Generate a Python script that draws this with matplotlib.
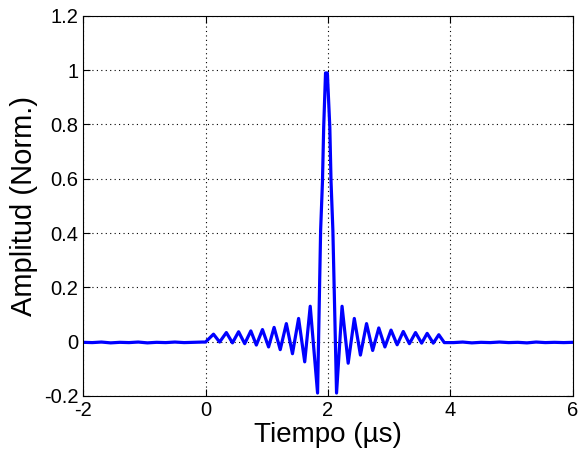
import numpy as np
import matplotlib
matplotlib.use("Agg")
import matplotlib.pyplot as plt

plt.rcParams['font.family'] = ['Liberation Sans', 'DejaVu Sans']

# baseline before the pulse
t_pre = [-2.0, -1.85, -1.7, -1.55, -1.4, -1.25, -1.1, -0.95, -0.8, -0.65,
         -0.5, -0.35, -0.2, -0.05]
a_pre = [-0.003, -0.004, -0.002, -0.005, -0.003, -0.004, -0.002, -0.005,
         -0.003, -0.004, -0.002, -0.004, -0.003, -0.002]

# compressed pulse: peaks / troughs
t_pulse = [0.0, 0.13, 0.23, 0.34, 0.44, 0.54, 0.64, 0.74, 0.83, 0.93,
           1.03, 1.12, 1.22, 1.32, 1.42, 1.52, 1.62, 1.71, 1.83,
           1.88, 1.91, 1.93, 1.96, 1.99, 2.03, 2.05, 2.08,
           2.14, 2.23, 2.33, 2.43, 2.53, 2.63, 2.73, 2.83, 2.93, 3.03,
           3.13, 3.23, 3.33, 3.43, 3.53, 3.62, 3.72, 3.81, 3.9]
a_pulse = [-0.002, 0.027, -0.002, 0.033, -0.005, 0.036, -0.008, 0.039, -0.013, 0.044,
           -0.02, 0.052, -0.03, 0.066, -0.045, 0.085, -0.075, 0.13, -0.19,
           0.41, 0.59, 0.79, 0.99, 0.99, 0.79, 0.59, 0.41,
           -0.19, 0.13, -0.08, 0.085, -0.05, 0.066, -0.033, 0.05, -0.02, 0.042,
           -0.012, 0.037, -0.008, 0.033, -0.006, 0.03, -0.006, 0.025, -0.004]

# baseline after the pulse
t_post = [4.05, 4.2, 4.35, 4.5, 4.65, 4.8, 4.95, 5.1, 5.25, 5.4, 5.55, 5.7,
          5.85, 6.0]
a_post = [-0.004, -0.002, -0.005, -0.003, -0.004, -0.002, -0.004, -0.003,
          -0.005, -0.002, -0.004, -0.003, -0.004, -0.003]

t = t_pre + t_pulse + t_post
amp = a_pre + a_pulse + a_post

fig = plt.figure(figsize=(5.81, 4.57), dpi=100)
ax = fig.add_axes([0.143, 0.134, 0.843, 0.831])

ax.plot(t, amp, color='#0000ff', lw=2.3, solid_joinstyle='round')

ax.set_xlim(-2, 6)
ax.set_ylim(-0.2, 1.2)
ax.set_xticks([-2, 0, 2, 4, 6])
ax.set_yticks([-0.2, 0, 0.2, 0.4, 0.6, 0.8, 1, 1.2])
ax.set_yticklabels(['-0.2', '0', '0.2', '0.4', '0.6', '0.8', '1', '1.2'])
ax.set_xticklabels(['-2', '0', '2', '4', '6'])

ax.grid(True, color='black', linestyle=(0, (1, 3)), lw=0.8)
ax.tick_params(direction='in', top=True, right=True, length=5,
               labelsize=14.5, width=0.8)
for s in ax.spines.values():
    s.set_linewidth(0.8)

ax.set_xlabel('Tiempo (µs)', fontsize=20, labelpad=2)
ax.set_ylabel('Amplitud (Norm.)', fontsize=21, labelpad=4)

fig.savefig('out.png', dpi=100)
